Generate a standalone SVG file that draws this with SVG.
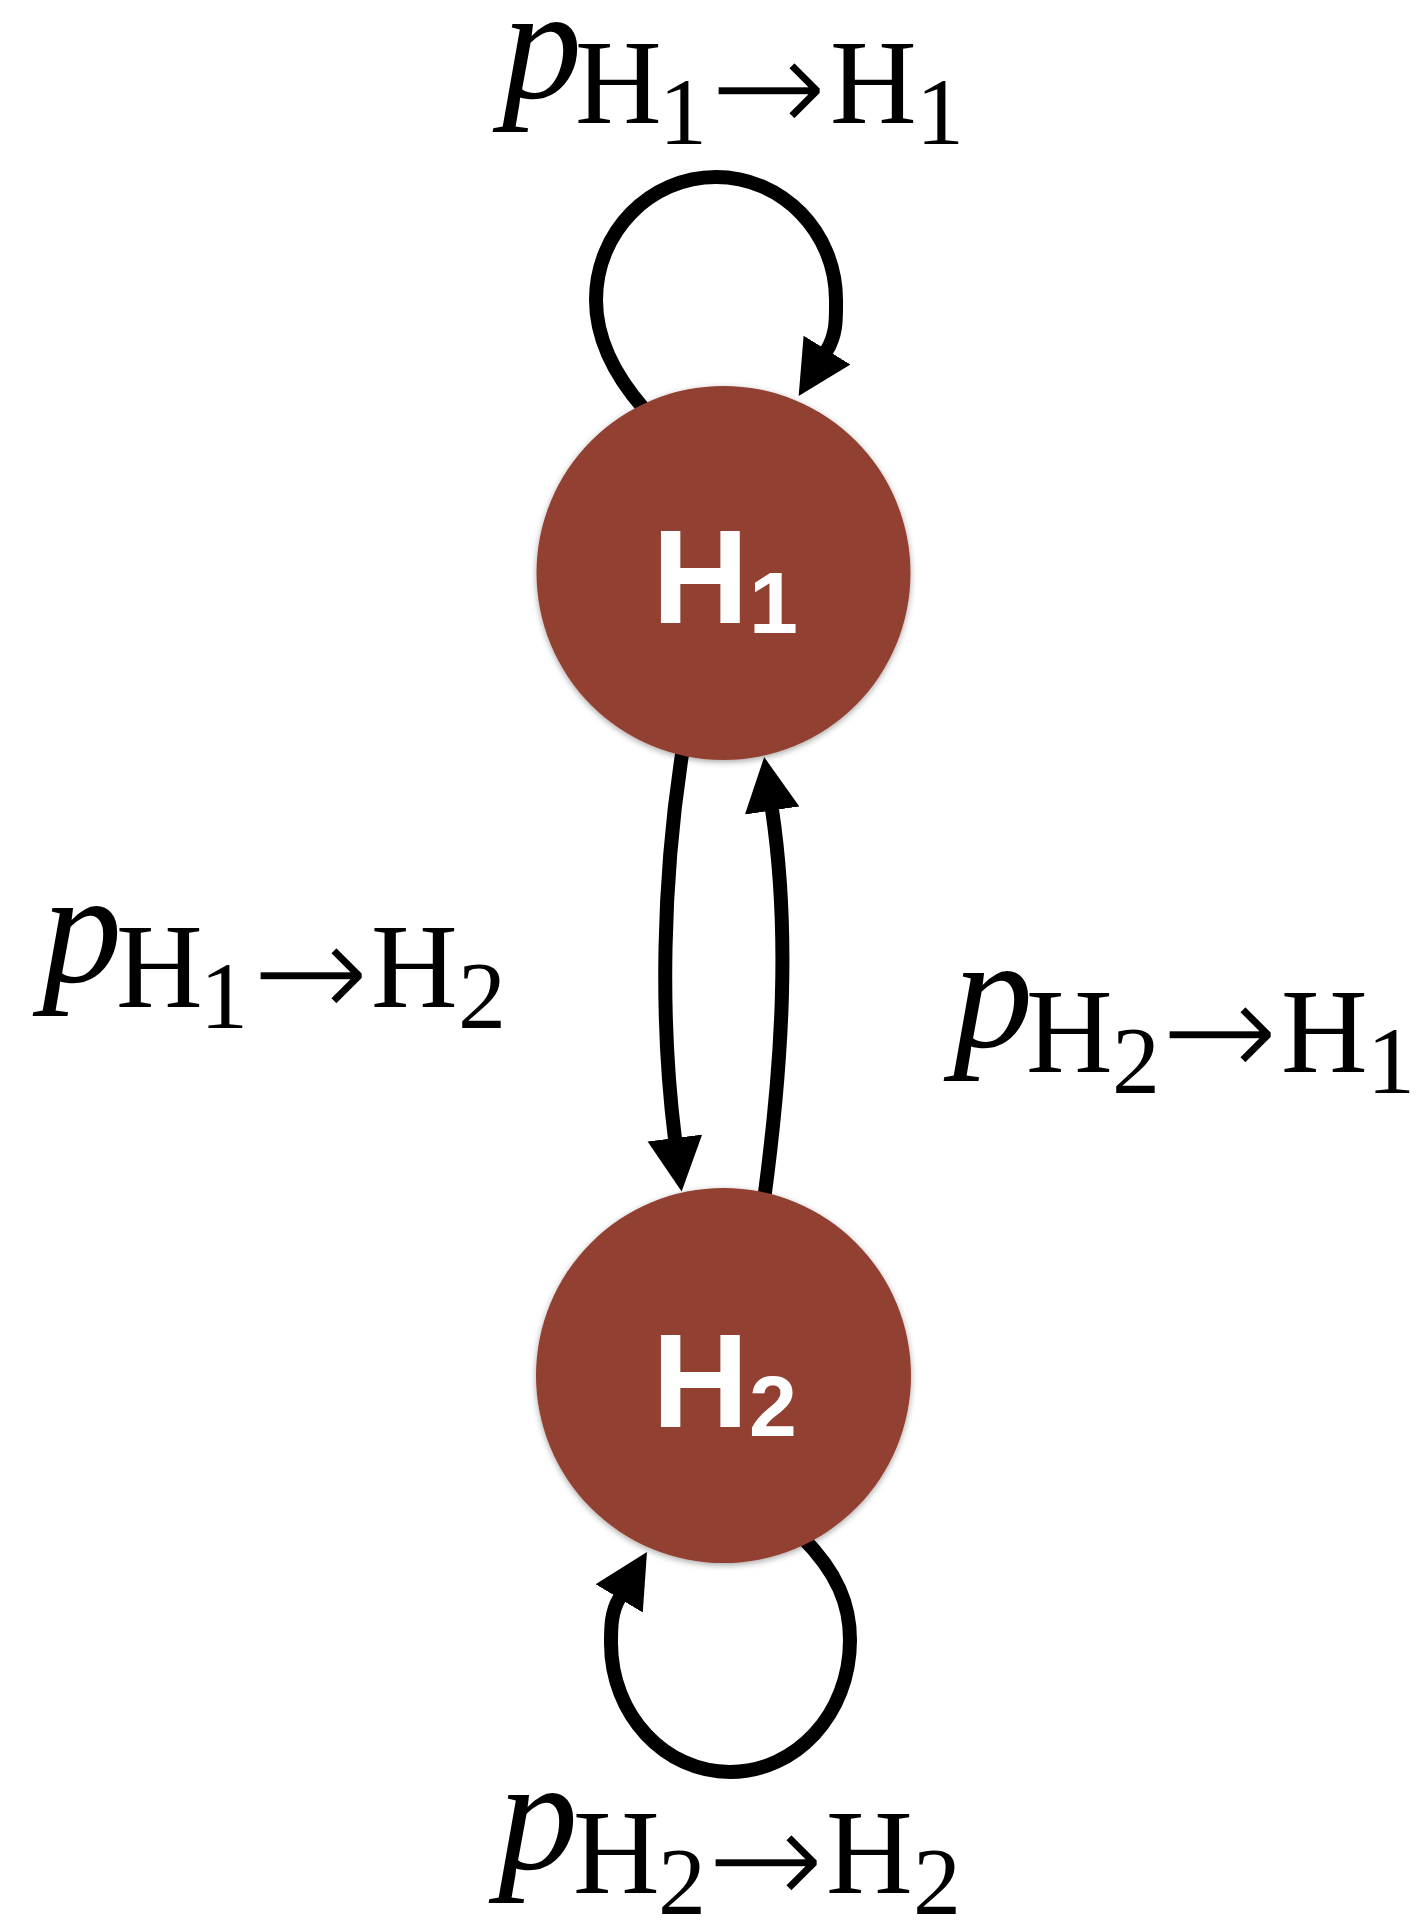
<svg xmlns="http://www.w3.org/2000/svg" width="1424" height="1920" viewBox="0 0 1424 1920">
<style>
.node{fill:#923f31;filter:url(#shadow)}
.nlabel{font-family:"Liberation Sans",Arial,sans-serif;font-weight:bold;fill:#ffffff}
.edge{fill:none;stroke:#000;stroke-width:14;marker-end:url(#ah)}
.math{font-family:"Liberation Serif","Times New Roman",serif;fill:#000}
.it{font-style:italic}
.arr{font-family:"DejaVu Sans",sans-serif;font-size:145px;stroke:#fff;stroke-width:5px}
</style>
<defs>
<filter id="shadow" x="-20%" y="-20%" width="140%" height="140%">
<feDropShadow dx="0" dy="2" stdDeviation="3" flood-color="#000" flood-opacity="0.35"/>
</filter>
<marker id="ah" markerUnits="userSpaceOnUse" viewBox="0 -28 56 56" markerWidth="56" markerHeight="56" refX="1" refY="0" orient="auto">
<path d="M0,-27.5 L54,0 L0,27.5 Z" fill="#000"/>
</marker>
</defs>
<rect width="1424" height="1920" fill="#fff"/>
<g id="connectors">
<path id="e-h1-h1" class="edge" d="M 644 409 C 610 370, 596 335, 596 300 C 596 232, 650 177, 716 177 C 782 177, 836 232, 836 300 C 836 318, 837 334, 826.5 351"/>
<path id="e-h1-h2" class="edge" d="M 683 748 C 662 880, 660 1020, 675 1139"/>
<path id="e-h2-h1" class="edge" d="M 764 1200 C 783 1060, 790 930, 772 809.5"/>
<path id="e-h2-h2" class="edge" d="M 801 1536 C 838 1573, 850 1605, 850 1640 C 850 1715, 795 1772, 730 1772 C 665 1772, 611 1715, 611 1643 C 611 1627, 611 1612, 619.7 1597.5"/>
</g>
<g id="node-h1">
<circle class="node" cx="723.5" cy="573" r="187"/>
<text class="nlabel" x="652" y="623" font-size="134">H</text>
<text class="nlabel" x="749" y="633" font-size="88">1</text>
</g>
<g id="node-h2">
<circle class="node" cx="723.5" cy="1375.5" r="187.5"/>
<text class="nlabel" x="652" y="1427" font-size="134">H</text>
<text class="nlabel" x="749" y="1436" font-size="86">2</text>
</g>
<g id="label-h1-h1">
<text class="math"><tspan class="it" x="502" y="98" font-size="160">p</tspan><tspan x="575" y="123" font-size="120">H</tspan><tspan x="659" y="144" font-size="96">1</tspan><tspan class="arr" x="708" y="136">→</tspan><tspan x="830" y="123" font-size="120">H</tspan><tspan x="916" y="144" font-size="96">1</tspan></text>
</g>
<g id="label-h1-h2">
<text class="math"><tspan class="it" x="42" y="982" font-size="160">p</tspan><tspan x="116" y="1007" font-size="120">H</tspan><tspan x="200" y="1028" font-size="96">1</tspan><tspan class="arr" x="250" y="1021">→</tspan><tspan x="371" y="1007" font-size="120">H</tspan><tspan x="458" y="1028" font-size="96">2</tspan></text>
</g>
<g id="label-h2-h1">
<text class="math"><tspan class="it" x="953" y="1047" font-size="160">p</tspan><tspan x="1026" y="1072" font-size="120">H</tspan><tspan x="1112" y="1093" font-size="96">2</tspan><tspan class="arr" x="1159" y="1080">→</tspan><tspan x="1281" y="1072" font-size="120">H</tspan><tspan x="1367" y="1093" font-size="96">1</tspan></text>
</g>
<g id="label-h2-h2">
<text class="math"><tspan class="it" x="498" y="1869" font-size="160">p</tspan><tspan x="573" y="1893" font-size="120">H</tspan><tspan x="658" y="1914" font-size="96">2</tspan><tspan class="arr" x="705" y="1908">→</tspan><tspan x="826" y="1893" font-size="120">H</tspan><tspan x="913" y="1914" font-size="96">2</tspan></text>
</g>
</svg>
